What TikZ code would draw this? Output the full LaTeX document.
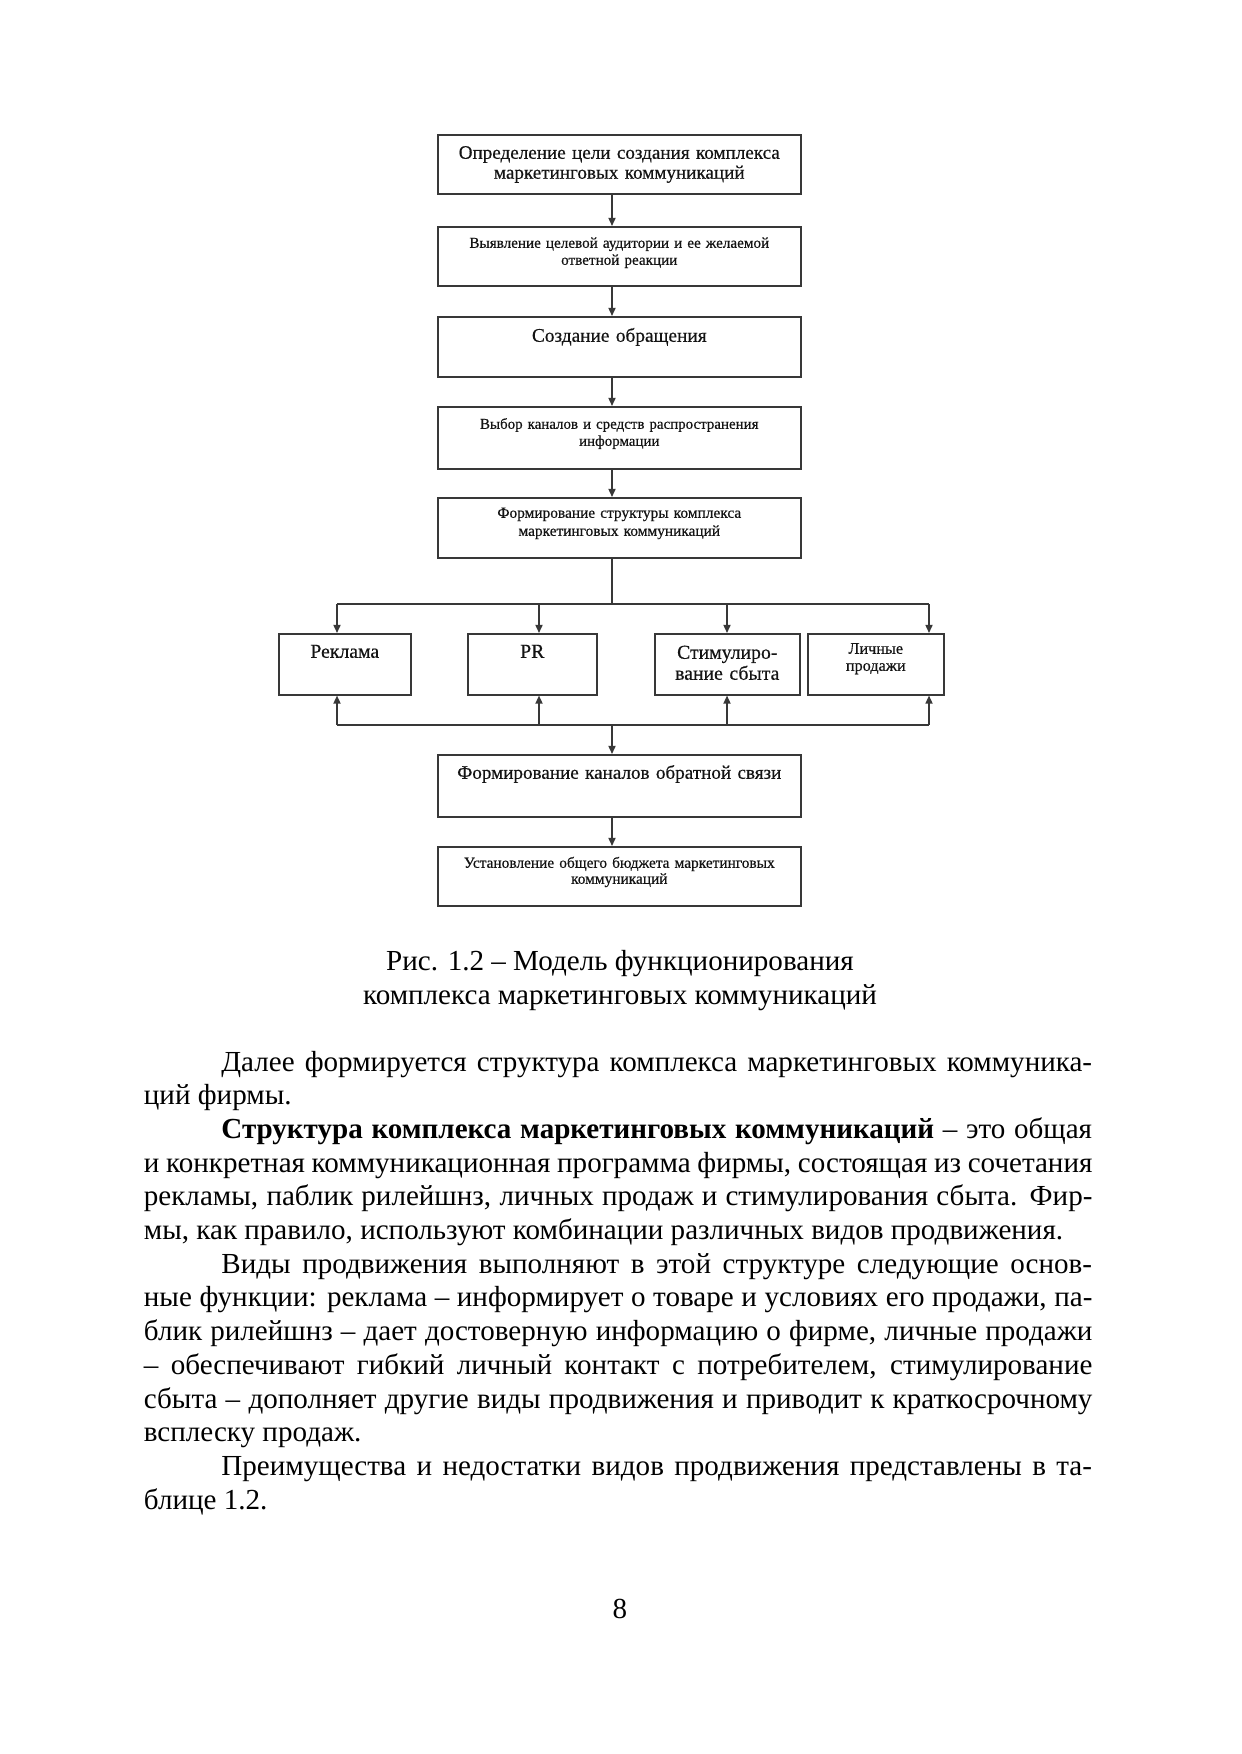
\documentclass[tikz,border=0pt]{standalone}
\usepackage{fontspec}
\setmainfont{Liberation Serif}
\newfontfamily\boxfont[FakeBold=0.5]{Liberation Serif}
\usetikzlibrary{arrows.meta}
\def\upx{0.481473pt}
\definecolor{lc}{gray}{0.22}
\definecolor{bt}{gray}{0.08}
\newcommand\mkbox[8]{%
  \pgfmathsetlengthmacro\bxW{(#4-#2)*\upx}%
  \pgfmathsetlengthmacro\bxT{(#4-#2)*\upx-4pt}%
  \pgfmathsetlengthmacro\bxH{(#6-#3)*\upx}%
  \pgfmathsetlengthmacro\bxD{(#5-#6)*\upx}%
  \node[flowbox, minimum width=\bxW, text width=\bxT, text height=\bxH, text depth=\bxD, font=\boxfont#7] (#1) at (#2,#3) {#8};}
\tikzset{
  flowbox/.style={draw=lc, line width=0.75pt, inner xsep=2pt, inner ysep=0pt, minimum height=0pt,
    align=center, anchor=north west, text=bt},
  conn/.style={draw=lc, line width=0.75pt},
  arr/.style={conn, -{Triangle[length=3.9pt,width=3.4pt]}},
  bodyline/.style={anchor=base west, inner sep=0pt, font=\fontsize{14}{16}\selectfont},
  capline/.style={anchor=base, inner sep=0pt, font=\fontsize{14}{16}\selectfont},
}
\begin{document}
\begin{tikzpicture}[x=0.481473pt, y=-0.481473pt]
\useasboundingbox (0,0) rectangle (1241,1754);
% main boxes
\mkbox{b1}{437}{134}{800}{193}{158}{\fontsize{9.2}{9.6}\selectfont}{Определение цели создания комплекса\\маркетинговых коммуникаций}
\mkbox{b2}{437}{226}{800}{285}{247}{\fontsize{7.3}{8.2}\selectfont}{Выявление целевой аудитории и ее желаемой\\ответной реакции}
\mkbox{b3}{437}{316}{800}{376}{341}{\fontsize{9.3}{9.6}\selectfont}{Создание обращения}
\mkbox{b4}{437}{406}{800}{468}{428}{\fontsize{7.2}{8.2}\selectfont}{Выбор каналов и средств распространения\\информации}
\mkbox{b5}{437}{497}{800}{557}{517}{\fontsize{7.4}{8.7}\selectfont}{Формирование структуры комплекса\\маркетинговых коммуникаций}
\mkbox{b6}{437}{754}{800}{816}{778}{\fontsize{9.2}{9.6}\selectfont}{Формирование каналов обратной связи}
\mkbox{b7}{437}{846}{800}{905}{867}{\fontsize{7.4}{7.7}\selectfont}{Установление общего бюджета маркетинговых\\коммуникаций}
% small boxes
\mkbox{s1}{278}{633}{410}{694}{657}{\fontsize{9.5}{10.1}\selectfont}{Реклама}
\mkbox{s2}{467}{633}{596}{694}{657}{\fontsize{9.5}{10.1}\selectfont}{PR}
\mkbox{s3}{654}{633}{799}{694}{658}{\fontsize{9.5}{10.1}\selectfont}{Стимулиро-\\вание сбыта}
\mkbox{s4}{807}{633}{943}{694}{653}{\fontsize{7.8}{8.2}\selectfont}{Личные\\продажи}
% connector coordinates
\coordinate (ax) at (612,0);
\coordinate (busT) at (0,604);
\coordinate (busB) at (0,725);
\coordinate (br1) at (337,0);
\coordinate (br2) at (539,0);
\coordinate (br3) at (727,0);
\coordinate (br4) at (929,0);
% vertical chain
\draw[arr] (b1.south -| ax) -- (b2.north -| ax);
\draw[arr] (b2.south -| ax) -- (b3.north -| ax);
\draw[arr] (b3.south -| ax) -- (b4.north -| ax);
\draw[arr] (b4.south -| ax) -- (b5.north -| ax);
\draw[conn] (b5.south -| ax) -- (busT -| ax);
\draw[conn] (busT -| br1) -- (busT -| br4);
\draw[arr] (busT -| br1) -- (s1.north -| br1);
\draw[arr] (busT -| br2) -- (s2.north -| br2);
\draw[arr] (busT -| br3) -- (s3.north -| br3);
\draw[arr] (busT -| br4) -- (s4.north -| br4);
\draw[conn] (busB -| br1) -- (busB -| br4);
\draw[arr] (busB -| br1) -- (s1.south -| br1);
\draw[arr] (busB -| br2) -- (s2.south -| br2);
\draw[arr] (busB -| br3) -- (s3.south -| br3);
\draw[arr] (busB -| br4) -- (s4.south -| br4);
\draw[arr] (busB -| ax) -- (b6.north -| ax);
\draw[arr] (b6.south -| ax) -- (b7.north -| ax);
% caption
\node[capline] (cap1) at (620,970.5) {Рис. 1.2 – Модель функционирования};
\node[capline] (cap2) at (620,1004) {комплекса маркетинговых коммуникаций};
% body text
\def\fw{456.7pt}
\def\iw{419.2pt}
\node[bodyline] (t1) at (221,1071) {\makebox[\iw][s]{Далее формируется структура комплекса маркетинговых коммуника-}};
\node[bodyline] (t2) at (143.5,1104.7) {ций фирмы.};
\node[bodyline] (t3) at (221,1138.4) {\makebox[\iw][s]{\textbf{Структура комплекса маркетинговых коммуникаций} – это общая}};
\node[bodyline] (t4) at (143.5,1172.1) {\makebox[\fw][s]{и конкретная коммуникационная программа фирмы, состоящая из сочетания}};
\node[bodyline] (t5) at (143.5,1205.8) {\makebox[\fw][s]{рекламы, паблик рилейшнз, личных продаж и стимулирования сбыта. Фир-}};
\node[bodyline] (t6) at (143.5,1239.5) {мы, как правило, используют комбинации различных видов продвижения.};
\node[bodyline] (t7) at (221,1273.2) {\makebox[\iw][s]{Виды продвижения выполняют в этой структуре следующие основ-}};
\node[bodyline] (t8) at (143.5,1306.9) {\makebox[\fw][s]{ные функции: реклама – информирует о товаре и условиях его продажи, па-}};
\node[bodyline] (t9) at (143.5,1340.6) {\makebox[\fw][s]{блик рилейшнз – дает достоверную информацию о фирме, личные продажи}};
\node[bodyline] (t10) at (143.5,1374.3) {\makebox[\fw][s]{– обеспечивают гибкий личный контакт с потребителем, стимулирование}};
\node[bodyline] (t11) at (143.5,1408) {\makebox[\fw][s]{сбыта – дополняет другие виды продвижения и приводит к краткосрочному}};
\node[bodyline] (t12) at (143.5,1441.7) {всплеску продаж.};
\node[bodyline] (t13) at (221,1475.4) {\makebox[\iw][s]{Преимущества и недостатки видов продвижения представлены в та-}};
\node[bodyline] (t14) at (143.5,1509.1) {блице 1.2.};
% page number
\node[capline] (pg) at (620,1618) {8};
\end{tikzpicture}
\end{document}
